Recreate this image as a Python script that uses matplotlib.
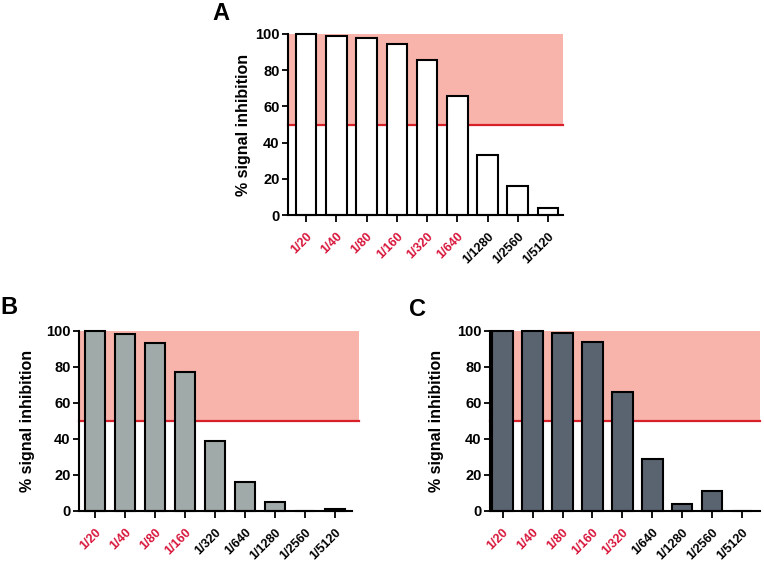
import numpy as np
import matplotlib.pyplot as plt

plt.rcParams['font.family'] = ['Liberation Sans', 'DejaVu Sans']

dilutions = ['1/20', '1/40', '1/80', '1/160', '1/320', '1/640', '1/1280', '1/2560', '1/5120']

# % signal inhibition per panel
vals_a = [100, 99, 98, 94.5, 85.5, 66, 33, 16, 4]
vals_b = [100, 98, 93, 77, 39, 16, 5, 0, 1.3]
vals_c = [100, 100, 99, 94, 66, 29, 4, 11.3, 0]

# how many dilutions are labelled red in each panel
n_red_a = 6
n_red_b = 4
n_red_c = 5

red = '#d8163c'
shade = '#f8b4ab'
line_red = '#d8202a'

fig = plt.figure(figsize=(7.64, 5.66), dpi=100)


def panel(rect, vals, n_red, face, letter, letter_xy, ylab_x, shade_xmax=1.0, xlim=(-0.6, 8.5)):
    ax = fig.add_axes(rect)
    x = np.arange(len(dilutions))
    ax.axhspan(50, 100, xmin=0, xmax=shade_xmax, color=shade, lw=0, zorder=0, clip_on=False)
    ax.plot([xlim[0], xlim[0] + (xlim[1] - xlim[0]) * shade_xmax], [50, 50],
            color=line_red, lw=1.6, zorder=1, clip_on=False)
    ax.bar(x, vals, width=0.68, color=face, edgecolor='black', linewidth=1.5,
           zorder=2, clip_on=False)
    ax.set_xlim(*xlim)
    ax.set_ylim(0, 100)
    ax.set_yticks([0, 20, 40, 60, 80, 100])
    ax.set_xticks(x)
    ax.set_xticklabels(dilutions, rotation=45, ha='right', va='top',
                       rotation_mode='anchor', fontsize=9, fontweight='bold')
    for i, t in enumerate(ax.get_xticklabels()):
        t.set_color(red if i < n_red else 'black')
    for t in ax.get_yticklabels():
        t.set_fontweight('bold')
        t.set_fontsize(10.5)
    ax.tick_params(axis='x', length=5, width=1.3, pad=6)
    ax.tick_params(axis='y', length=4, width=1.3, pad=2)
    for s in ['top', 'right']:
        ax.spines[s].set_visible(False)
    for s in ['left', 'bottom']:
        ax.spines[s].set_linewidth(1.5)
    ax.set_ylabel('% signal inhibition', fontsize=11.5, fontweight='bold')
    ax.yaxis.set_label_coords(ylab_x, 0.5)
    fig.text(letter_xy[0], letter_xy[1], letter, fontsize=17, fontweight='bold',
             ha='center', va='center')
    return ax


panel([0.377, 0.620, 0.360, 0.320], vals_a, n_red_a, 'white', 'A', (221 / 764, 1 - 14 / 566), -0.135)
panel([0.1034, 0.0972, 0.3573, 0.3185], vals_b, n_red_b, '#a0aaa9', 'B', (9 / 764, 1 - 308 / 566), -0.16,
      shade_xmax=1.026, xlim=(-0.53, 8.57))
panel([0.641, 0.0972, 0.354, 0.3185], vals_c, n_red_c, '#5a6470', 'C', (418 / 764, 1 - 310 / 566), -0.17,
      xlim=(-0.43, 8.6))

fig.savefig('out.png', dpi=100)
